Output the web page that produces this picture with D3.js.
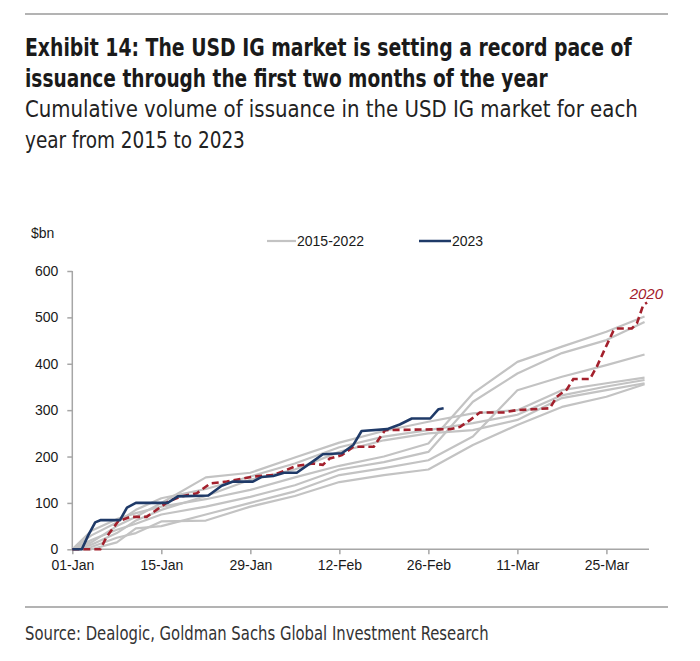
<!DOCTYPE html>
<html><head><meta charset="utf-8">
<script src="https://cdn.jsdelivr.net/npm/d3@7"></script>
<style>
body{margin:0;background:#fff;}
svg{display:block;}
</style></head>
<body>
<svg id="chart" width="700" height="661"></svg>
<script>
// ---- data ----
const tickDays = [0, 14, 28, 42, 56, 70, 84];
const tickLabels = ["01-Jan", "15-Jan", "29-Jan", "12-Feb", "26-Feb", "11-Mar", "25-Mar"];
const yTicks = [0, 100, 200, 300, 400, 500, 600];

// grey years sampled at common days
const greyDays = [0, 3, 7, 10, 14, 21, 28, 35, 42, 49, 56, 63, 70, 77, 84, 90];
const y2015 = [0, 40, 65, 78, 92, 108, 128, 155, 180, 200, 228, 336, 404, 437, 469, 502];
const y2016 = [0, 20, 42, 55, 75, 92, 113, 138, 172, 188, 210, 318, 379, 423, 451, 490];
const y2017 = [0, 0, 15, 45, 50, 75, 100, 125, 160, 175, 192, 243, 343, 372, 397, 420];
const y2018 = [0, 15, 50, 70, 100, 155, 165, 198, 230, 255, 275, 293, 300, 343, 358, 370];
const y2019 = [0, 30, 58, 85, 110, 130, 157, 185, 220, 243, 257, 272, 290, 332, 351, 365];
const y2021 = [0, 10, 35, 62, 85, 115, 150, 172, 210, 235, 250, 257, 279, 326, 343, 358];
const y2022 = [0, 5, 25, 35, 60, 62, 92, 115, 145, 160, 172, 225, 268, 307, 329, 356];

const days2020 = [0, 4.4, 5.4, 7.2, 9.1, 11.7, 15.1, 16.9, 19.6, 21.7, 24.3, 28.5, 31.6, 35.3, 37.9, 39.4, 40.5, 42.4, 44.2, 47.4, 49.2, 59.4, 61, 62.6, 64.1, 67.8, 69.9, 75.1, 76.2, 77.8, 78.8, 81.4, 82.5, 83.8, 85.1, 85.6, 88, 88.8, 89.8, 90.4];
const vals2020 = [0, 0, 27, 60, 70, 70, 103, 113, 121, 142, 146, 157, 160, 180, 185, 182, 196, 203, 221, 221, 257, 259, 264, 279, 295, 295, 300, 304, 329, 345, 367, 367, 394, 433, 471, 476, 476, 487, 527, 532];

const days2023 = [0, 1.5, 2.5, 3.6, 4.5, 7.5, 8.6, 10, 15, 16.6, 21.4, 23.5, 25.3, 28.4, 29.8, 31.6, 33.3, 35.3, 37.9, 39.4, 42.4, 44.2, 45.5, 49.5, 51.5, 53.4, 56.3, 57.6, 58.4];
const vals2023 = [0, 0, 30, 58, 63, 63, 90, 100, 100, 114, 116, 137, 146, 146, 156, 158, 165, 165, 190, 205, 207, 225, 255, 259, 269, 282, 282, 302, 304];

const legendLabels = ["2015-2022", "2023"];

// ---- drawing ----
const svg = d3.select("#chart");
const GREY = "#c3c3c3", NAVY = "#1f3a68", RED = "#a3202c", AXIS = "#a6a6a6", TXT = "#1a1a1a";
const condensed = "'Liberation Sans Narrow','DejaVu Sans Condensed','Roboto Condensed',sans-serif";
const plainFont = "'Liberation Sans',Arial,sans-serif";

const x = d3.scaleLinear().domain([0, 90.7]).range([72.3, 649]);
const y = d3.scaleLinear().domain([0, 600]).range([549.3, 271]);

// rules
svg.append("line").attr("x1", 25).attr("x2", 668).attr("y1", 14).attr("y2", 14).attr("stroke", "#9a9a9a").attr("stroke-width", 1.5);
svg.append("line").attr("x1", 25).attr("x2", 668).attr("y1", 607).attr("y2", 607).attr("stroke", "#9a9a9a").attr("stroke-width", 1.5);

// text fitted to a target width by a horizontal scale
function fitText(s, x0, y0, size, weight, width, font, color) {
  const t = svg.append("text").attr("x", 0).attr("y", 0).attr("font-family", font)
    .attr("font-size", size).attr("font-weight", weight).attr("fill", color || TXT).text(s);
  const w = t.node().getComputedTextLength() || width;
  t.attr("transform", `translate(${x0},${y0}) scale(${(width / w).toFixed(4)},1)`);
  return t;
}
function txt(s, x0, y0, size, color) {
  return svg.append("text").attr("x", x0).attr("y", y0).attr("font-family", plainFont)
    .attr("font-size", size).attr("fill", color || TXT).text(s);
}
fitText("Exhibit 14: The USD IG market is setting a record pace of", 25, 56, 25, "bold", 607, condensed);
fitText("issuance through the first two months of the year", 25, 87, 25, "bold", 523, condensed);
fitText("Cumulative volume of issuance in the USD IG market for each", 25, 117, 23, "normal", 613, condensed, "#222");
fitText("year from 2015 to 2023", 25, 148, 23, "normal", 220, condensed, "#222");
fitText("Source: Dealogic, Goldman Sachs Global Investment Research", 25, 640, 19, "normal", 464, condensed, "#333");

txt("$bn", 31, 238, 14);

// legend
svg.append("line").attr("x1", 267).attr("x2", 296).attr("y1", 241).attr("y2", 241).attr("stroke", GREY).attr("stroke-width", 2.2);
txt(legendLabels[0], 297, 246, 14);
svg.append("line").attr("x1", 419).attr("x2", 451).attr("y1", 241).attr("y2", 241).attr("stroke", NAVY).attr("stroke-width", 2.5);
txt(legendLabels[1], 452, 246, 14);

// axes
const yAxis = d3.axisLeft(y).tickValues(yTicks).tickSize(5).tickPadding(9).tickFormat(d3.format("d"));
const gy = svg.append("g").attr("transform", "translate(72.3,0)").call(yAxis);
const xAxis = d3.axisBottom(x).tickValues(tickDays).tickSize(5).tickPadding(6).tickFormat((d, i) => tickLabels[i]);
const gx = svg.append("g").attr("transform", "translate(0,549.3)").call(xAxis);
[gx, gy].forEach(g => {
  g.selectAll(".domain").attr("stroke", AXIS).attr("stroke-width", 1.5);
  g.selectAll(".tick line").attr("stroke", AXIS).attr("stroke-width", 1.5);
  g.selectAll("text").attr("font-family", plainFont).attr("font-size", 14).attr("fill", TXT);
});
gy.select(".domain").attr("d", `M-0,${y(600)}V${y(0)}`);
gx.select(".domain").attr("d", `M${x(0)},0H${x(90.7)}`);

// lines
const line = d3.line().x(d => x(d[0])).y(d => y(d[1]));
const greys = [y2015, y2016, y2017, y2018, y2019, y2021, y2022];
const plot = svg.append("g");
greys.forEach(vals => {
  plot.append("path").datum(greyDays.map((d, i) => [d, vals[i]]))
    .attr("d", line).attr("fill", "none").attr("stroke", GREY).attr("stroke-width", 2.2)
    .attr("stroke-linejoin", "round");
});
plot.append("path").datum(days2020.map((d, i) => [d, vals2020[i]]))
  .attr("d", line).attr("fill", "none").attr("stroke", RED).attr("stroke-width", 2.6)
  .attr("stroke-dasharray", "7,4");
plot.append("path").datum(days2023.map((d, i) => [d, vals2023[i]]))
  .attr("d", line).attr("fill", "none").attr("stroke", NAVY).attr("stroke-width", 2.6)
  .attr("stroke-linejoin", "round");

svg.append("text").attr("x", 663).attr("y", 299).attr("text-anchor", "end")
  .attr("font-family", plainFont).attr("font-size", 15).attr("font-style", "italic")
  .attr("fill", RED).text("2020");
</script>
</body></html>
